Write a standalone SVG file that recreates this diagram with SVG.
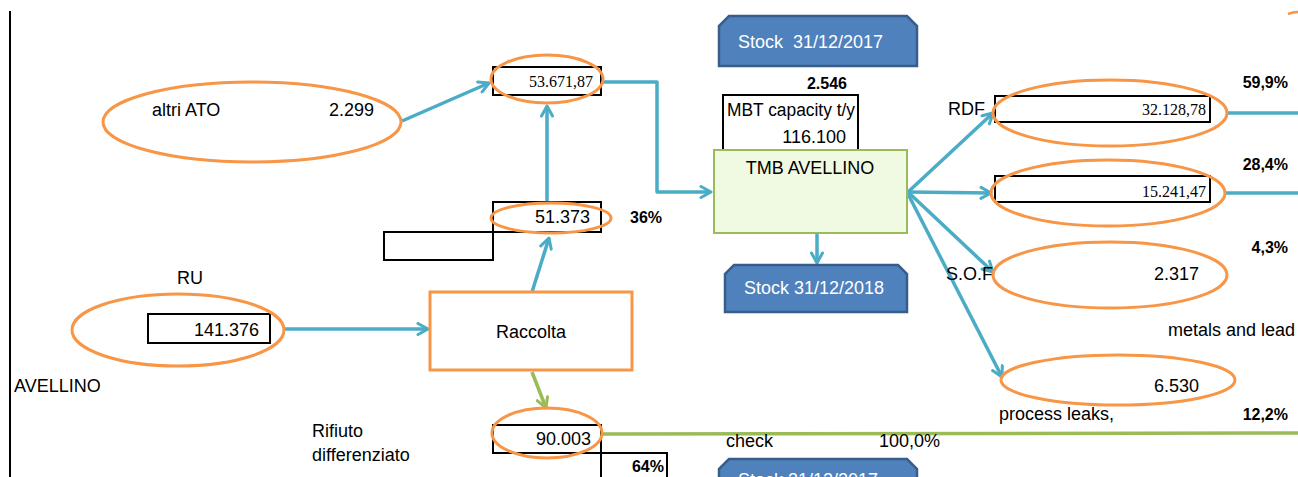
<svg xmlns="http://www.w3.org/2000/svg" width="1298" height="477" viewBox="0 0 1298 477">
<style>
.t{font-family:"Liberation Sans",Arial,sans-serif;font-size:18px;fill:#000}
.b{font-family:"Liberation Sans",Arial,sans-serif;font-size:16px;font-weight:bold;fill:#000}
.s{font-family:"Liberation Serif","Times New Roman",serif;font-size:16px;fill:#000}
.w{font-family:"Liberation Sans",Arial,sans-serif;font-size:18px;fill:#fff}
.r{text-anchor:end}
.m{text-anchor:middle}
.ell{fill:none;stroke:#F79646;stroke-width:3}
.box{fill:#fff;stroke:#000;stroke-width:2}
.blue{fill:none;stroke:#4BACC6;stroke-width:3.5;stroke-linejoin:round}
.green{fill:none;stroke:#9BBB59;stroke-width:3.5}
.stock{fill:#4F81BD;stroke:#385D8A;stroke-width:2.5}
</style>
<defs>
<marker id="ab" viewBox="0 0 14 14" refX="12" refY="7" markerWidth="14" markerHeight="14" markerUnits="userSpaceOnUse" orient="auto">
<path d="M2,1.5 L12,7 L2,12.5" fill="none" stroke="#4BACC6" stroke-width="3" stroke-linecap="round" stroke-linejoin="round"/>
</marker>
<marker id="ag" viewBox="0 0 14 14" refX="12" refY="7" markerWidth="14" markerHeight="14" markerUnits="userSpaceOnUse" orient="auto">
<path d="M2,1.5 L12,7 L2,12.5" fill="none" stroke="#9BBB59" stroke-width="3" stroke-linecap="round" stroke-linejoin="round"/>
</marker>
</defs>
<rect width="1298" height="477" fill="#fff"/>
<line x1="10" y1="11" x2="10" y2="477" stroke="#000" stroke-width="2"/>
<path d="M1288,14 Q1293,12 1298,12" fill="none" stroke="#F79646" stroke-width="2.5"/>

<g id="connectors">
<line class="blue" x1="402" y1="121" x2="489" y2="83" marker-end="url(#ab)"/>
<line class="blue" x1="547" y1="203" x2="547" y2="106" marker-end="url(#ab)"/>
<line class="blue" x1="532" y1="292" x2="549" y2="238" marker-end="url(#ab)"/>
<line class="blue" x1="284" y1="329" x2="428" y2="329" marker-end="url(#ab)"/>
<path class="blue" d="M603,82 L657,82 L657,192 L711,192" marker-end="url(#ab)"/>
<line class="blue" x1="817" y1="234" x2="817" y2="263" marker-end="url(#ab)"/>
<line class="blue" x1="908" y1="192" x2="993" y2="113" marker-end="url(#ab)"/>
<line class="blue" x1="908" y1="192" x2="991" y2="193" marker-end="url(#ab)"/>
<line class="blue" x1="908" y1="192" x2="993" y2="272" marker-end="url(#ab)"/>
<line class="blue" x1="908" y1="194" x2="1002" y2="377" marker-end="url(#ab)"/>
<line class="blue" x1="1228" y1="113" x2="1298" y2="113"/>
<line class="blue" x1="1225" y1="193" x2="1298" y2="193"/>
<line class="green" x1="532" y1="372" x2="546" y2="408" marker-end="url(#ag)"/>
<line class="green" x1="603" y1="434" x2="1298" y2="433"/>
</g>

<g id="altri-ato">
<ellipse class="ell" cx="252" cy="122" rx="149" ry="40"/>
<text class="t" x="152" y="116">altri ATO</text>
<text class="t r" x="374" y="116">2.299</text>
</g>

<g id="node-53671">
<rect class="box" x="493" y="67" width="108" height="28"/>
<ellipse class="ell" cx="547" cy="79" rx="56" ry="24"/>
<text class="s r" x="593" y="87">53.671,87</text>
</g>

<g id="node-51373">
<rect class="box" x="493" y="202" width="108" height="30"/>
<rect class="box" x="384" y="232" width="109" height="28"/>
<ellipse class="ell" cx="551" cy="218" rx="60" ry="15"/>
<text class="t r" x="590" y="223">51.373</text>
<text class="b" x="630" y="223">36%</text>
</g>

<g id="node-ru">
<text class="t" x="177" y="284">RU</text>
<rect class="box" x="148" y="314" width="122" height="29"/>
<ellipse class="ell" cx="178" cy="330" rx="106" ry="36"/>
<text class="t r" x="259" y="336">141.376</text>
</g>

<g id="label-avellino">
<text class="t" x="14" y="392">AVELLINO</text>
</g>

<g id="raccolta">
<rect x="430" y="292" width="202" height="78" fill="#fff" stroke="#F79646" stroke-width="3"/>
<text class="t m" x="531" y="338">Raccolta</text>
</g>

<g id="node-90003">
<text class="t" x="312" y="437">Rifiuto</text>
<text class="t" x="312" y="461">differenziato</text>
<rect class="box" x="493" y="425" width="108" height="28"/>
<rect class="box" x="601" y="453" width="66" height="30"/>
<ellipse class="ell" cx="547" cy="433" rx="55" ry="25"/>
<text class="t r" x="591" y="445">90.003</text>
<text class="b r" x="664" y="472">64%</text>
<text class="t" x="726" y="447">check</text>
<text class="t r" x="940" y="447">100,0%</text>
</g>

<g id="stock-2017-top">
<path class="stock" d="M729,16 L907,16 L917,26 L917,66 L719,66 L719,26 Z"/>
<text class="w" x="738" y="48" xml:space="preserve">Stock  31/12/2017</text>
</g>

<g id="mbt-capacity">
<text class="b r" x="847" y="89">2.546</text>
<rect class="box" x="723" y="95" width="135" height="55"/>
<text class="t" x="727" y="116" textLength="128" lengthAdjust="spacingAndGlyphs">MBT capacity t/y</text>
<text class="t r" x="846" y="143">116.100</text>
</g>

<g id="tmb-avellino">
<rect x="714" y="150" width="193" height="83" fill="#F0FAE3" stroke="#9BBB59" stroke-width="2"/>
<text class="t m" x="810" y="174">TMB AVELLINO</text>
</g>

<g id="stock-2018">
<path class="stock" d="M734,265 L898,265 L907,274 L907,312 L725,312 L725,274 Z"/>
<text class="w" x="744" y="294">Stock 31/12/2018</text>
</g>

<g id="stock-2017-bottom">
<path class="stock" d="M729,459 L907,459 L917,469 L917,490 L719,490 L719,469 Z"/>
<text class="w" x="738" y="486">Stock 31/12/2017</text>
</g>

<g id="rdf">
<text class="t" x="948" y="115">RDF</text>
<rect class="box" x="995" y="96" width="215" height="26"/>
<ellipse class="ell" cx="1110" cy="113" rx="117" ry="33"/>
<text class="s r" x="1206" y="115">32.128,78</text>
<text class="b r" x="1288" y="88">59,9%</text>
</g>

<g id="node-15241">
<rect class="box" x="995" y="176" width="215" height="26"/>
<ellipse class="ell" cx="1108" cy="193" rx="117" ry="33"/>
<text class="s r" x="1206" y="197">15.241,47</text>
<text class="b r" x="1288" y="170">28,4%</text>
</g>

<g id="sof">
<text class="t" x="946" y="280">S.O.F</text>
<ellipse cx="1110" cy="275" rx="117" ry="33" fill="#fff" stroke="#F79646" stroke-width="3"/>
<text class="t r" x="1199" y="280">2.317</text>
<text class="b r" x="1288" y="253">4,3%</text>
<text class="t" x="1168" y="336">metals and lead</text>
</g>

<g id="process-leaks">
<ellipse class="ell" cx="1118" cy="380" rx="117" ry="25"/>
<text class="t r" x="1199" y="392">6.530</text>
<text class="t" x="999" y="420">process leaks,</text>
<text class="b r" x="1288" y="420">12,2%</text>
</g>
</svg>
